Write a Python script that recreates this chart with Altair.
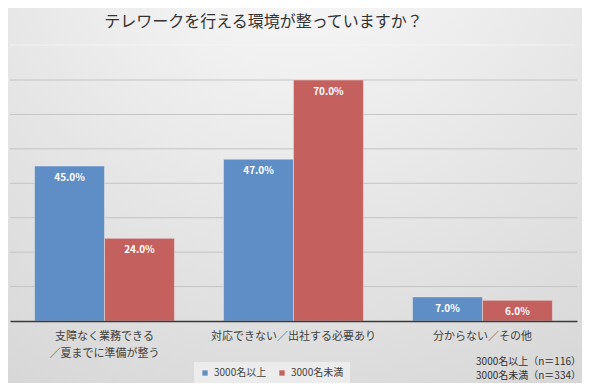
import altair as alt
import pandas as pd

categories = ["支障なく業務できる\n／夏までに準備が整う", "対応できない／出社する必要あり", "分からない／その他"]
series = ["3000名以上", "3000名未満"]
values_large = [45.0, 47.0, 7.0]
values_small = [24.0, 70.0, 6.0]
grid_values = [10, 20, 30, 40, 50, 60, 70]
notes = ["3000名以上（n＝116）", "3000名未満（n＝334）"]
title_text = "テレワークを行える環境が整っていますか？"

rows = []
for c, a, b in zip(categories, values_large, values_small):
    rows.append({"cat": c, "series": series[0], "value": a, "label": f"{a:.1f}%"})
    rows.append({"cat": c, "series": series[1], "value": b, "label": f"{b:.1f}%"})
df = pd.DataFrame(rows)
grid_df = pd.DataFrame({"value": grid_values})

FONT = "Noto Sans CJK JP"
W, H = 567, 241

yscale = alt.Scale(domain=[0, 70], nice=False)

bg = alt.Chart(pd.DataFrame({"a": [0]})).mark_rect(
    color=alt.Gradient(
        gradient="radial",
        x1=0.5, y1=0.0, r1=0.0,
        x2=0.5, y2=0.0, r2=1.1,
        stops=[alt.GradientStop(color="#fbfbfb", offset=0),
               alt.GradientStop(color="#e6e6e6", offset=0.5),
               alt.GradientStop(color="#d2d2d2", offset=1)],
    ),
    clip=False,
).encode(x=alt.value(-2), x2=alt.value(572), y=alt.value(-72), y2=alt.value(303))

sep = alt.Chart(pd.DataFrame({"a": [0]})).mark_rule(color="#f4f4f4", strokeWidth=1, clip=False).encode(
    x=alt.value(0), x2=alt.value(565), y=alt.value(-35)
)

grid = alt.Chart(grid_df).mark_rule(color="#c4c4c4", strokeWidth=1).encode(
    y=alt.Y("value:Q", scale=yscale, axis=None),
    x=alt.value(0), x2=alt.value(W),
)

xenc = alt.X("cat:N", sort=categories, title=None,
             scale=alt.Scale(paddingInner=0.26, paddingOuter=0.13),
             axis=alt.Axis(labelAngle=0, labelExpr="split(datum.label, '\\n')",
                           labelFontSize=11, labelColor="#404040", labelFont=FONT,
                           labelLineHeight=17, labelPadding=9, ticks=False,
                           domainColor="#3a3a3a", domainWidth=1.5, labelLimit=300,
                           zindex=2))

bars = alt.Chart(df).mark_bar(stroke="#e8e8e8", strokeWidth=0.5).encode(
    x=xenc,
    xOffset=alt.XOffset("series:N", sort=series),
    y=alt.Y("value:Q", title=None, scale=yscale, axis=None),
    color=alt.Color("series:N", sort=series,
                    scale=alt.Scale(domain=series, range=["#5f8dc6", "#c4605d"]),
                    legend=alt.Legend(title=None, orient="none", direction="horizontal",
                                      legendX=184, legendY=282, symbolType="square",
                                      symbolSize=28, labelFontSize=10, labelFont=FONT,
                                      labelColor="#404040", fillColor="#ececec",
                                      padding=6, columnPadding=10, labelOffset=4,
                                      symbolStrokeWidth=0)),
)

labels = alt.Chart(df).mark_text(color="white", fontWeight="bold", fontSize=10, font=FONT,
                                 baseline="top", dy=7).encode(
    x=alt.X("cat:N", sort=categories),
    xOffset=alt.XOffset("series:N", sort=series),
    y=alt.Y("value:Q", scale=yscale),
    text="label:N",
)

note_layers = []
for i, n in enumerate(notes):
    note_layers.append(
        alt.Chart(pd.DataFrame({"note": [n]})).mark_text(
            align="right", fontSize=10, font=FONT, color="#303030",
            baseline="middle", clip=False,
        ).encode(x=alt.value(571), y=alt.value(282 + 14 * i), text="note:N")
    )

chart = alt.layer(bg, sep, grid, bars, labels, *note_layers).properties(
    width=W, height=H,
    autosize=alt.AutoSizeParams(type="none"),
    padding={"left": 2, "right": 5, "top": 72, "bottom": 62},
    background="#d6d6d6",
    title=alt.TitleParams(title_text, fontSize=16, font=FONT, color="#333333",
                          fontWeight="normal", anchor="middle", offset=0, dy=22,
                          dx=-30, zindex=2),
).configure_view(stroke=None)

chart.save("out.html", embed_options={"renderer": "svg", "actions": False})
